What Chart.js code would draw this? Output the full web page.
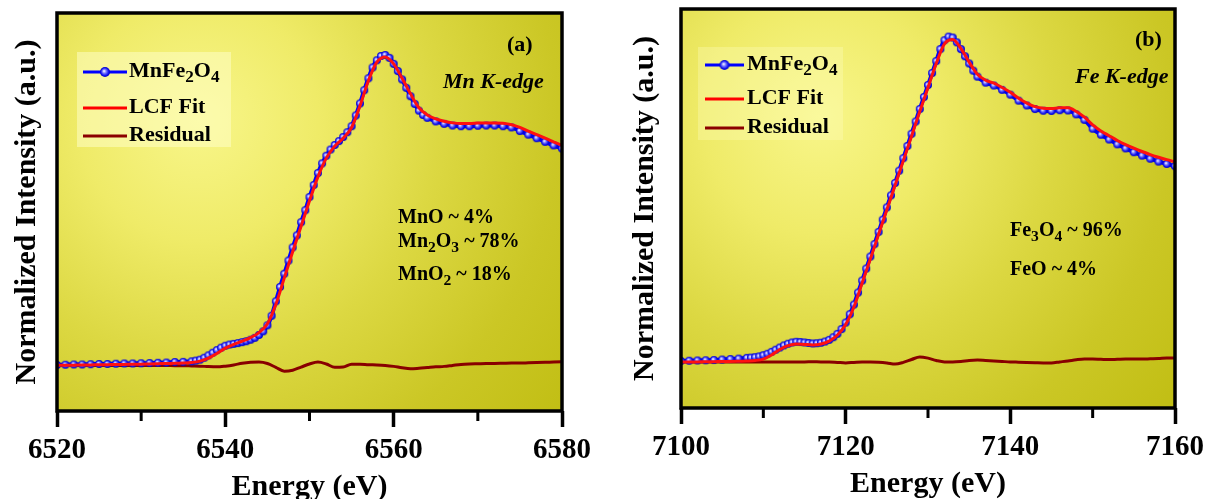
<!DOCTYPE html>
<html><head><meta charset="utf-8">
<script src="https://cdn.jsdelivr.net/npm/chart.js@4.4.1/dist/chart.umd.min.js"></script>
<style>
html,body{margin:0;padding:0;background:#fff;width:1210px;height:499px;overflow:hidden}
canvas{position:absolute;top:0}
#ca{left:0}
#cb{left:605px}
</style></head><body>
<canvas id="ca" width="605" height="499"></canvas>
<canvas id="cb" width="605" height="499"></canvas>
<script>
// ---------------- DATA ----------------
// Panel (a) Mn K-edge
const tickLabelsA = ['6520','6540','6560','6580'];
const minorTicksA = [6530, 6550, 6570];
const energyBlueA = [6520,6521,6522,6523,6524,6525,6526,6527,6528,6529,6530,6531,6532,6533,6534,6535,6536,
  6536.5,6537,6537.5,6538,6538.5,6539,6539.5,6540,6540.5,6541,6541.5,6542,6542.5,6543,6543.5,6544,6544.5,6545,6545.5,
  6546,6546.5,6547,6547.5,6548,6548.5,6549,6549.5,6550,6550.5,6551,6551.5,6552,6552.5,6553,6553.5,6554,6554.5,6555,6555.5,
  6556,6556.5,6557,6557.5,6558,6558.5,6559,6559.5,6560,6560.5,6561,6561.5,6562,6562.5,6563,6563.5,6564,
  6565,6566,6567,6568,6569,6570,6571,6572,6573,6574,6575,6576,6577,6578,6579,6580];
const mnFe2O4A = [0.000,0.001,0.002,0.002,0.003,0.004,0.004,0.005,0.006,0.006,0.007,0.008,0.009,0.010,0.012,0.013,0.015,
  0.018,0.022,0.030,0.040,0.051,0.062,0.072,0.080,0.085,0.088,0.091,0.095,0.099,0.105,0.113,0.125,0.140,0.165,0.205,
  0.265,0.325,0.380,0.435,0.490,0.540,0.595,0.645,0.700,0.750,0.800,0.840,0.872,0.898,0.917,0.933,0.950,0.970,0.995,1.040,
  1.090,1.145,1.195,1.240,1.270,1.288,1.292,1.280,1.255,1.225,1.190,1.155,1.120,1.088,1.060,1.042,1.030,
  1.015,1.005,0.998,0.995,0.995,0.997,0.998,0.998,0.995,0.990,0.975,0.960,0.945,0.930,0.915,0.902];
const energyA = [6520,6521,6522,6523,6524,6525,6526,6527,6528,6529,6530,6531,6532,6533,6534,6535,6536,6537,6538,6539,
  6540,6541,6542,6543,6544,6545,6546,6547,6548,6549,6550,6551,6552,6553,6554,6555,6556,6557,6558,6559,
  6560,6561,6562,6563,6564,6565,6566,6567,6568,6569,6570,6571,6572,6573,6574,6575,6576,6577,6578,6579,6580];
const lcfFitA = [-0.002,-0.001,-0.001,0.000,0.000,0.001,0.001,0.002,0.002,0.003,0.003,0.004,0.005,0.006,0.007,0.008,0.010,0.016,0.028,0.048,
  0.070,0.086,0.099,0.114,0.135,0.172,0.252,0.362,0.472,0.578,0.684,0.784,0.862,0.912,0.945,0.990,1.080,1.185,1.262,1.284,
  1.255,1.195,1.130,1.072,1.042,1.026,1.016,1.009,1.006,1.006,1.008,1.009,1.009,1.007,1.001,0.990,0.975,0.960,0.945,0.930,0.915];
const residualA = [-0.002,-0.002,-0.002,-0.002,-0.002,-0.002,-0.002,-0.002,-0.002,-0.002,-0.002,-0.002,-0.002,-0.002,-0.003,-0.003,-0.004,-0.005,-0.007,-0.008,
  -0.005,0.000,0.007,0.011,0.012,0.006,-0.010,-0.026,-0.022,-0.009,0.004,0.012,0.004,-0.010,-0.009,0.003,0.003,0.001,0.000,-0.002,
  -0.006,-0.012,-0.016,-0.014,-0.011,-0.008,-0.006,-0.002,0.002,0.004,0.005,0.006,0.006,0.007,0.008,0.008,0.009,0.010,0.011,0.012,0.013];

// Panel (b) Fe K-edge
const tickLabelsB = ['7100','7120','7140','7160'];
const minorTicksB = [7110, 7130, 7150];
const energyBlueB = [7100,7101,7102,7103,7104,7105,7106,7107,7108,
  7108.5,7109,7109.5,7110,7110.5,7111,7111.5,7112,7112.5,7113,7113.5,7114,7114.5,7115,7115.5,7116,7116.5,7117,7117.5,7118,7118.5,
  7119,7119.5,7120,7120.5,7121,7121.5,7122,7122.5,7123,7123.5,7124,7124.5,7125,7125.5,7126,7126.5,7127,7127.5,7128,7128.5,
  7129,7129.5,7130,7130.5,7131,7131.5,7132,7132.5,7133,7133.5,7134,7134.5,7135,7135.5,7136,
  7137,7138,7139,7140,7141,7142,7143,7144,7145,7146,7147,7148,7149,7150,7151,7152,7153,7154,7155,7156,7157,7158,7159,7160];
const mnFe2O4B = [0.000,0.001,0.002,0.003,0.004,0.006,0.008,0.010,0.013,
  0.014,0.016,0.019,0.024,0.030,0.038,0.047,0.056,0.065,0.072,0.077,0.080,0.079,0.077,0.075,0.073,0.074,0.076,0.081,0.088,0.099,
  0.113,0.133,0.160,0.195,0.235,0.285,0.335,0.385,0.435,0.487,0.538,0.589,0.640,0.690,0.742,0.793,0.845,0.896,0.947,0.998,
  1.050,1.100,1.150,1.200,1.250,1.300,1.337,1.352,1.348,1.328,1.300,1.270,1.240,1.210,1.185,
  1.160,1.148,1.130,1.110,1.085,1.065,1.050,1.043,1.042,1.045,1.044,1.028,1.005,0.968,0.943,0.923,0.903,0.886,0.870,0.856,0.843,0.831,0.821,0.812];
const energyB = [7100,7101,7102,7103,7104,7105,7106,7107,7108,7109,7110,7111,7112,7113,7114,7115,7116,7117,7118,7119,
  7120,7121,7122,7123,7124,7125,7126,7127,7128,7129,7130,7131,7132,7133,7134,7135,7136,7137,7138,7139,
  7140,7141,7142,7143,7144,7145,7146,7147,7148,7149,7150,7151,7152,7153,7154,7155,7156,7157,7158,7159,7160];
const lcfFitB = [-0.004,-0.004,-0.004,-0.003,-0.003,-0.002,-0.002,-0.001,0.000,0.002,0.008,0.025,0.048,0.064,0.071,0.069,0.067,0.071,0.083,0.108,
  0.152,0.225,0.325,0.425,0.528,0.630,0.732,0.835,0.937,1.040,1.140,1.240,1.322,1.340,1.302,1.245,1.195,1.170,1.158,1.140,
  1.120,1.095,1.075,1.060,1.053,1.052,1.055,1.055,1.040,1.016,0.984,0.959,0.939,0.919,0.902,0.887,0.873,0.860,0.849,0.839,0.830];
const residualB = [-0.004,-0.004,-0.004,-0.004,-0.004,-0.004,-0.004,-0.004,-0.004,-0.004,-0.004,-0.004,-0.004,-0.004,-0.004,-0.004,-0.003,-0.004,-0.004,-0.006,
  -0.008,-0.006,-0.004,-0.004,-0.005,-0.008,-0.013,-0.006,0.006,0.017,0.012,0.002,-0.004,-0.004,-0.002,0.002,0.004,0.002,0.000,-0.002,
  -0.004,-0.005,-0.006,-0.007,-0.008,-0.008,-0.004,0.000,0.005,0.008,0.008,0.007,0.006,0.007,0.008,0.008,0.008,0.009,0.010,0.012,0.012];

// Texts (parts starting with '_' are subscripts)
const legendNames = [['MnFe','_2','O','_4'], ['LCF Fit'], ['Residual']];
const notesA = [['MnO ~ 4%'], ['Mn','_2','O','_3',' ~ 78%'], ['MnO','_2',' ~ 18%']];
const notesB = [['Fe','_3','O','_4',' ~ 96%'], ['FeO ~ 4%']];

// ---------------- RENDER ----------------
const SERIF = '"Liberation Serif", "Times New Roman", serif';
Chart.defaults.font.family = SERIF;
Chart.defaults.color = '#000';

function sphere(r){
  const s = 2*r+2, c = document.createElement('canvas');
  c.width = s; c.height = s;
  const g = c.getContext('2d');
  const cx = s/2, cy = s/2;
  const gr = g.createRadialGradient(cx-1, cy-1, 0.3, cx, cy, r);
  gr.addColorStop(0, '#f4f4ff');
  gr.addColorStop(0.35, '#7a7aff');
  gr.addColorStop(0.75, '#1414ee');
  gr.addColorStop(1, '#0000c4');
  g.fillStyle = gr; g.beginPath(); g.arc(cx, cy, r, 0, Math.PI*2); g.fill();
  return c;
}
const markerImg = sphere(4);
const legendMarker = sphere(5);

function drawRich(ctx, parts, x, y, size, style){
  ctx.textBaseline = 'middle'; ctx.textAlign = 'left'; ctx.fillStyle = '#000';
  for (const p of parts){
    const sub = p.startsWith('_');
    const t = sub ? p.slice(1) : p;
    const fs = sub ? size*0.78 : size;
    ctx.font = `${style} ${fs}px ${SERIF}`;
    ctx.fillText(t, x, y + (sub ? size*0.32 : 0));
    x += ctx.measureText(t).width;
  }
}

function makePanel(id, cfg){
  const deco = {
    id: 'deco_' + id,
    beforeDatasetsDraw(chart){
      const {ctx, chartArea:{left, top, width, height}} = chart;
      const cx = left + width*0.28, cy = top + height*0.27;
      const g = ctx.createRadialGradient(cx, cy, 0, cx, cy, width*0.95);
      g.addColorStop(0, '#f8f68a');
      g.addColorStop(0.25, '#efeb68');
      g.addColorStop(0.5, '#dcd842');
      g.addColorStop(0.75, '#cbc725');
      g.addColorStop(1, '#c0bd12');
      ctx.save(); ctx.fillStyle = g; ctx.fillRect(left, top, width, height); ctx.restore();
    },
    afterDatasetsDraw(chart){
      const {ctx, chartArea:{left, top, width, height, bottom}} = chart;
      ctx.save();
      ctx.strokeStyle = '#000'; ctx.lineWidth = 3.5;
      ctx.strokeRect(left, top, width, height);
      ctx.lineWidth = 3;
      for (const v of cfg.minor){
        const x = chart.scales.x.getPixelForValue(v);
        ctx.beginPath(); ctx.moveTo(x, bottom); ctx.lineTo(x, bottom + 10); ctx.stroke();
      }
      const [bx, by, bw, bh] = cfg.legendBox;
      ctx.fillStyle = cfg.legendFill; ctx.fillRect(bx, by, bw, bh);
      const colors = ['#0000ff', '#ff0000', '#8b0000'];
      const [lx1, lx2] = cfg.legendLineX;
      cfg.legendY.forEach((ly, i) => {
        ctx.strokeStyle = colors[i]; ctx.lineWidth = 3;
        ctx.beginPath(); ctx.moveTo(lx1, ly); ctx.lineTo(lx2, ly); ctx.stroke();
        if (i === 0){
          const mx = (lx1 + lx2)/2;
          ctx.drawImage(legendMarker, mx - legendMarker.width/2, ly - legendMarker.height/2);
        }
        drawRich(ctx, legendNames[i], cfg.legendTextX, ly - 1, 22, 'bold');
      });
      drawRich(ctx, [cfg.panelLabel], cfg.panelLabelPos[0], cfg.panelLabelPos[1], 22, 'bold');
      drawRich(ctx, [cfg.edge], cfg.edgePos[0], cfg.edgePos[1], 22, 'italic bold');
      cfg.notes.forEach((n, i) => drawRich(ctx, n, cfg.notePos[i][0], cfg.notePos[i][1], 20, 'bold'));
      ctx.restore();
    }
  };
  const isMajor = v => cfg.ticks.includes(String(Math.round(v)));
  return new Chart(document.getElementById(id), {
    type: 'line',
    data: {
      datasets: [
        {label: 'LCF Fit', data: cfg.fitX.map((x, i) => ({x, y: cfg.fitY[i]})),
         borderColor: '#ff1010', borderWidth: 3, pointRadius: 0, cubicInterpolationMode: 'monotone'},
        {label: 'MnFe2O4', data: cfg.blueX.map((x, i) => ({x, y: cfg.blueY[i]})),
         borderColor: '#0000ff', borderWidth: 4, pointStyle: markerImg, pointRadius: 4, cubicInterpolationMode: 'monotone'},
        {label: 'Residual', data: cfg.fitX.map((x, i) => ({x, y: cfg.resY[i]})),
         borderColor: '#880000', borderWidth: 3, pointRadius: 0, cubicInterpolationMode: 'monotone'}
      ]
    },
    options: {
      responsive: false, animation: false, devicePixelRatio: 1,
      layout: {padding: {top: cfg.padTop, right: cfg.padRight, left: 0, bottom: 0}},
      plugins: {legend: {display: false}, tooltip: {enabled: false}},
      scales: {
        x: {
          type: 'linear', min: cfg.xMin, max: cfg.xMax,
          afterFit: s => { s.height = cfg.xAxisHeight; },
          ticks: {stepSize: 10, autoSkip: false, maxRotation: 0, minRotation: 0, padding: 6,
                  font: {size: 29, weight: 'bold', lineHeight: 1.2},
                  callback: v => isMajor(v) ? String(Math.round(v)) : ''},
          grid: {drawOnChartArea: false, tickLength: 16, tickWidth: 3.5, color: '#000',
                 tickColor: c => (c.tick && isMajor(c.tick.value)) ? '#000' : 'rgba(0,0,0,0)'},
          border: {display: false},
          title: {display: true, text: 'Energy (eV)', font: {size: 30, weight: 'bold', lineHeight: 0.8},
                  padding: {top: 0, bottom: cfg.xTitlePad}}
        },
        y: {
          min: cfg.yMin, max: cfg.yMax,
          afterFit: s => { s.width = cfg.yAxisWidth; },
          ticks: {display: false}, grid: {display: false}, border: {display: false},
          title: {display: true, text: 'Normalized Intensity (a.u.)', font: {size: 30, weight: 'bold', lineHeight: 0.8},
                  padding: {top: cfg.yTitlePad, bottom: 0}}
        }
      }
    },
    plugins: [deco]
  });
}

makePanel('ca', {
  xMin: 6520, xMax: 6580, yMin: -0.192, yMax: 1.467,
  ticks: tickLabelsA, minor: minorTicksA,
  blueX: energyBlueA, blueY: mnFe2O4A, fitX: energyA, fitY: lcfFitA, resY: residualA,
  yAxisWidth: 57, xAxisHeight: 88, padTop: 13, padRight: 43, yTitlePad: 15, xTitlePad: 0,
  legendBox: [77, 52, 154, 95], legendFill: 'rgba(255,255,205,0.5)',
  legendLineX: [83, 127], legendY: [72, 108, 136], legendTextX: 129,
  panelLabel: '(a)', panelLabelPos: [507, 45], edge: 'Mn K-edge', edgePos: [443, 82],
  notes: notesA, notePos: [[398, 218], [398, 242], [398, 275]]
});
makePanel('cb', {
  xMin: 7100, xMax: 7160, yMin: -0.196, yMax: 1.467,
  ticks: tickLabelsB, minor: minorTicksB,
  blueX: energyBlueB, blueY: mnFe2O4B, fitX: energyB, fitY: lcfFitB, resY: residualB,
  yAxisWidth: 76, xAxisHeight: 91, padTop: 9, padRight: 29, yTitlePad: 28, xTitlePad: 3,
  legendBox: [93, 47, 145, 93], legendFill: 'rgba(255,255,200,0.3)',
  legendLineX: [100, 139], legendY: [65, 99, 128], legendTextX: 142,
  panelLabel: '(b)', panelLabelPos: [530, 40], edge: 'Fe K-edge', edgePos: [470, 77],
  notes: notesB, notePos: [[405, 231], [405, 270]]
});
</script>
</body></html>
